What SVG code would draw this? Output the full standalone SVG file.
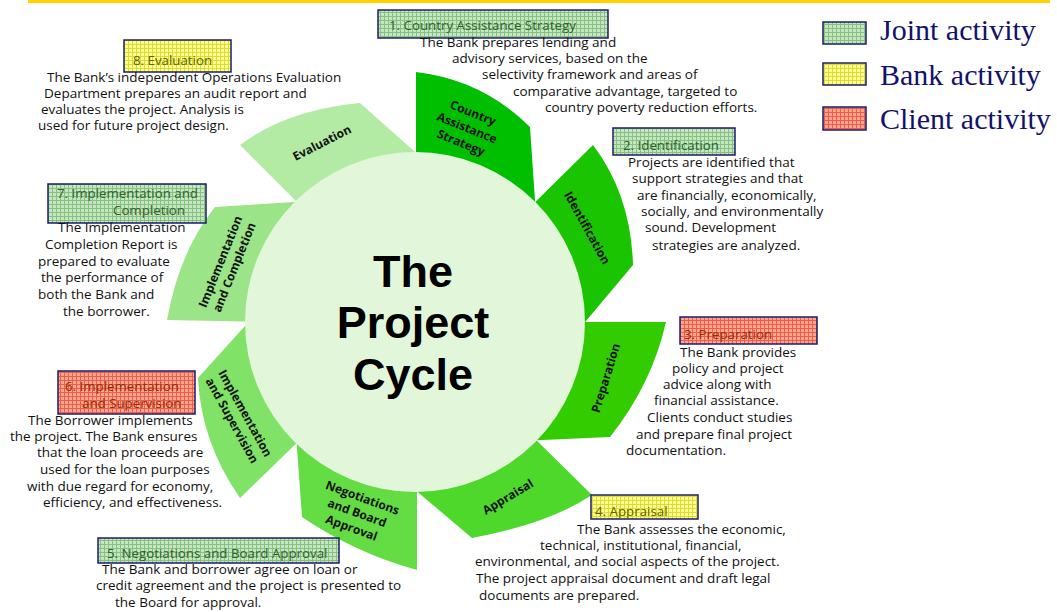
<svg xmlns="http://www.w3.org/2000/svg" width="1057" height="612" viewBox="0 0 1057 612">
<defs>
<pattern id="pg" width="4" height="4" patternUnits="userSpaceOnUse"><rect width="4" height="4" fill="#c6e6bf"/><path d="M0 0.5H4M0.5 0V4" stroke="#86c083" stroke-width="1"/></pattern>
<pattern id="py" width="4" height="4" patternUnits="userSpaceOnUse"><rect width="4" height="4" fill="#ffff8c"/><path d="M0 0.5H4M0.5 0V4" stroke="#dada3c" stroke-width="1"/></pattern>
<pattern id="pr" width="4" height="4" patternUnits="userSpaceOnUse"><rect width="4" height="4" fill="#ffa48e"/><path d="M0 0.5H4M0.5 0V4" stroke="#e8604c" stroke-width="1"/></pattern>
<style>
.box{stroke:#1c1c6e;stroke-width:1.5}
.bt{font-family:"Open Sans","Liberation Sans",sans-serif;font-size:13.3px}
.gt{fill:#2f622f}.yt{fill:#626200}.rt{fill:#8f2e00}
.body{font-family:"Open Sans","Liberation Sans",sans-serif;font-size:13.5px;fill:#111}
.seg{font-family:"Open Sans","Liberation Sans",sans-serif;font-size:12px;font-weight:700;fill:#111;text-anchor:middle}
.big{font-family:"Liberation Sans",Arial,sans-serif;font-size:45px;font-weight:700;fill:#000;text-anchor:middle}
.leg{font-family:"Liberation Serif","Times New Roman",serif;font-size:30px;fill:#12126a}
</style>
</defs>
<rect x="28" y="0" width="1022" height="3" fill="#ffd200"/>

<g id="segments">
<path id="seg-cas" d="M416,72 Q483,80 530,127 L537,230 L416,230 Z" fill="#00bf00"/>
<path id="seg-ident" d="M593,145 Q631,195 633,265 L570,340 L520,280 L517,220 Z" fill="#1ac400"/>
<path id="seg-prep" d="M560,322 L666,322 Q652,384 610,437 L520,441 Z" fill="#33cc00"/>
<path id="seg-appr" d="M525,429 L592,495 Q548,524 472,538 L407,483 Z" fill="#4dd82b"/>
<path id="seg-nego" d="M295,420 L302,517 Q355,553 417,570 L417,470 Z" fill="#64dc44"/>
<path id="seg-isup" d="M198,378 L262,307 L310,430 L240,498 Q201,442 198,378 Z" fill="#80e266"/>
<path id="seg-icomp" d="M215,207 L310,201 L270,322 L167,320 Q179,252 215,207 Z" fill="#9be488"/>
<path id="seg-eval" d="M240,145 Q286,110 360,103 L432,167 L305,210 Z" fill="#b3eba4"/>
</g>

<g id="center">
<circle cx="415" cy="322" r="170" fill="#e2f7da"/>
<text class="big" x="413" y="287">The</text>
<text class="big" x="413" y="338">Project</text>
<text class="big" x="413" y="390">Cycle</text>
</g>

<g id="segment-labels">
<g transform="translate(467,128) rotate(22)"><text class="seg" y="-12">Country</text><text class="seg" y="4">Assistance</text><text class="seg" y="20">Strategy</text></g>
<g transform="translate(587,228) rotate(61)"><text class="seg" y="4">Identification</text></g>
<g transform="translate(606,378) rotate(-73)"><text class="seg" y="4">Preparation</text></g>
<g transform="translate(508,497) rotate(-31)"><text class="seg" y="4">Appraisal</text></g>
<g transform="translate(357,513) rotate(20)"><text class="seg" y="-12">Negotiations</text><text class="seg" y="4">and Board</text><text class="seg" y="20">Approval</text></g>
<g transform="translate(238.5,417) rotate(61)"><text class="seg" y="-3.5">Implementation</text><text class="seg" y="11.5">and Supervision</text></g>
<g transform="translate(227.5,264.5) rotate(-68)"><text class="seg" y="-3.5">Implementation</text><text class="seg" y="11.5">and Completion</text></g>
<g transform="translate(322,143) rotate(-27)"><text class="seg" y="4">Evaluation</text></g>
</g>

<g id="node1">
<rect class="box" x="378" y="10" width="230" height="28" fill="url(#pg)"/>
<text class="bt gt" x="389" y="30">1. Country Assistance Strategy</text>
<text class="body"><tspan x="420" y="47">The Bank prepares lending and</tspan><tspan x="452" y="63">advisory services, based on the</tspan><tspan x="482" y="79">selectivity framework and areas of</tspan><tspan x="513" y="96">comparative advantage, targeted to</tspan><tspan x="545" y="112">country  poverty reduction efforts.</tspan></text>
</g>

<g id="node2">
<rect class="box" x="613" y="128" width="122" height="27" fill="url(#pg)"/>
<text class="bt gt" x="623" y="149.5">2. Identification</text>
<text class="body"><tspan x="628" y="166.5">Projects are identified that</tspan><tspan x="632" y="183">support strategies and that</tspan><tspan x="637" y="200">are financially, economically,</tspan><tspan x="641" y="216">socially, and environmentally</tspan><tspan x="645" y="232">sound.  Development</tspan><tspan x="652" y="250">strategies are analyzed.</tspan></text>
</g>

<g id="node3">
<rect class="box" x="680" y="317" width="137" height="27" fill="url(#pr)"/>
<text class="bt rt" x="684" y="339">3. Preparation</text>
<text class="body"><tspan x="680" y="357">The Bank provides</tspan><tspan x="672" y="373">policy and project</tspan><tspan x="663" y="389">advice along with</tspan><tspan x="654" y="405">financial assistance.</tspan><tspan x="647" y="422">Clients conduct studies</tspan><tspan x="636" y="439">and prepare final project</tspan><tspan x="626" y="455">documentation.</tspan></text>
</g>

<g id="node4">
<rect class="box" x="591" y="495" width="107" height="24" fill="url(#py)"/>
<text class="bt yt" x="595" y="516">4. Appraisal</text>
<text class="body"><tspan x="577" y="534">The Bank assesses the economic,</tspan><tspan x="540" y="550">technical, institutional, financial,</tspan><tspan x="475" y="566">environmental, and social aspects of the project.</tspan><tspan x="476" y="583">The project appraisal document and draft legal</tspan><tspan x="479" y="600">documents are prepared.</tspan></text>
</g>

<g id="node5">
<rect class="box" x="98" y="538" width="241" height="25" fill="url(#pg)"/>
<text class="bt gt" x="107" y="557.5">5. Negotiations and Board Approval</text>
<text class="body"><tspan x="102" y="574">The Bank and borrower agree on loan or</tspan><tspan x="96" y="590">credit agreement and the project is presented to</tspan><tspan x="115" y="607">the Board for approval.</tspan></text>
</g>

<g id="node6">
<rect class="box" x="58" y="371" width="137" height="43" fill="url(#pr)"/>
<text class="bt rt"><tspan x="65" y="391">6. Implementation</tspan><tspan x="82" y="407.5">and Supervision</tspan></text>
<text class="body"><tspan x="28" y="425">The Borrower implements</tspan><tspan x="10" y="441">the project. The Bank ensures</tspan><tspan x="37" y="457">that the loan proceeds are</tspan><tspan x="40" y="474">used for the loan purposes</tspan><tspan x="27" y="491">with due regard for economy,</tspan><tspan x="43" y="507">efficiency, and effectiveness.</tspan></text>
</g>

<g id="node7">
<rect class="box" x="48" y="184" width="158" height="39" fill="url(#pg)"/>
<text class="bt gt"><tspan x="57" y="198">7. Implementation and</tspan><tspan x="113" y="215">Completion</tspan></text>
<text class="body"><tspan x="58" y="232">The Implementation</tspan><tspan x="45" y="249">Completion Report is</tspan><tspan x="38" y="266">prepared to evaluate</tspan><tspan x="41" y="282">the performance of</tspan><tspan x="38" y="299">both the Bank and</tspan><tspan x="63" y="316">the borrower.</tspan></text>
</g>

<g id="node8">
<rect class="box" x="124" y="40" width="107" height="32" fill="url(#py)"/>
<text class="bt yt" x="133" y="65">8. Evaluation</text>
<text class="body"><tspan x="47" y="82">The Bank’s independent Operations Evaluation</tspan><tspan x="44" y="98">Department prepares an audit report and</tspan><tspan x="41" y="114">evaluates the project. Analysis is</tspan><tspan x="38" y="130">used for future project design.</tspan></text>
</g>

<g id="legend">
<rect class="box" x="823" y="22" width="43" height="22" fill="url(#pg)"/>
<text class="leg" x="880" y="40">Joint activity</text>
<rect class="box" x="823" y="63" width="43" height="22" fill="url(#py)"/>
<text class="leg" x="880" y="85">Bank activity</text>
<rect class="box" x="823" y="107" width="43" height="23" fill="url(#pr)"/>
<text class="leg" x="880" y="129">Client activity</text>
</g>
</svg>
